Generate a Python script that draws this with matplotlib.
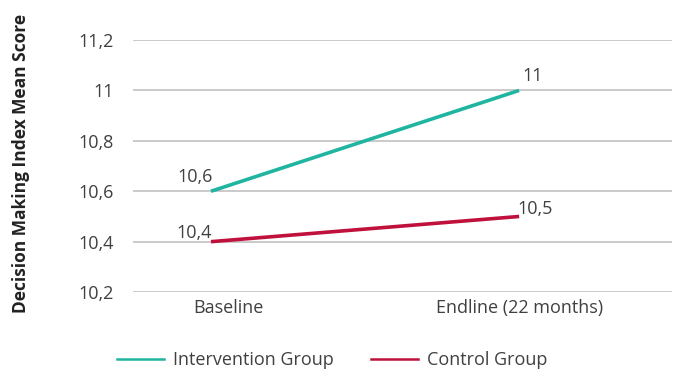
import matplotlib.pyplot as plt
import matplotlib.transforms as mtransforms
from matplotlib.lines import Line2D

plt.rcParams['font.family'] = ['Open Sans', 'DejaVu Sans']

# survey rounds and mean scores
rounds = ['Baseline', 'Endline (22 months)']
intervention = [10.6, 11.0]
control = [10.4, 10.5]
yticks = [10.2, 10.4, 10.6, 10.8, 11.0, 11.2]

teal = '#1fb5a0'
red = '#c0103c'
txt = '#404040'
fs = 13


def fmt(v):
    # comma decimal separator, no trailing zero
    s = ('%.1f' % v).rstrip('0').rstrip('.')
    return s.replace('.', ',')


fig = plt.figure(figsize=(6.75, 3.74), dpi=100)
ax = fig.add_axes([0.197, 0.219, 0.799, 0.674])

x = list(range(len(rounds)))
ax.plot(x, intervention, color=teal, lw=2.6, solid_capstyle='butt', zorder=3)
ax.plot(x, control, color=red, lw=2.6, solid_capstyle='butt', zorder=3)

ax.set_xlim(-0.253, 1.497)
ax.set_ylim(10.2, 11.2)
ax.set_yticks(yticks)
ax.set_yticklabels([fmt(v) for v in yticks])
ax.set_xticks(x)
ax.set_xticklabels(rounds)
ax.tick_params(length=0, labelsize=fs, colors=txt)
ax.tick_params(axis='y', pad=14)
ax.tick_params(axis='x', pad=5)
for s in ax.spines.values():
    s.set_visible(False)
ax.grid(axis='y', color='#c6c6c6', lw=1.3)
ax.set_axisbelow(True)

# first category label sits a little right of its point
lbl = ax.get_xticklabels()[0]
lbl.set_transform(lbl.get_transform() +
                  mtransforms.ScaledTranslation(17 / 100, 0, fig.dpi_scale_trans))

# value labels
def label(xv, yv, dx, dy, ha):
    ax.annotate(fmt(yv), (xv, yv), xytext=(dx, dy), textcoords='offset points',
                ha=ha, va='baseline', fontsize=fs, color=txt)


label(x[0], intervention[0], 1, 6.5, 'right')
label(x[1], intervention[1], 2, 6.5, 'left')
label(x[0], control[0], 1, 3, 'right')
label(x[1], control[1], -1.5, 1.5, 'left')

fig.text(0.031, 0.564, 'Decision Making Index Mean Score', rotation=90,
         ha='center', va='center', fontsize=12.5, fontweight='bold', color='#222222')

handles = [Line2D([], [], color=teal, lw=1.8), Line2D([], [], color=red, lw=1.8)]
fig.legend(handles, ['Intervention Group', 'Control Group'], loc='center',
           bbox_to_anchor=(0.492, 0.037), ncol=2, frameon=False, fontsize=fs,
           handlelength=2.6, handletextpad=0.5, columnspacing=2.1, labelcolor=txt)

fig.savefig('out.png', dpi=100)
